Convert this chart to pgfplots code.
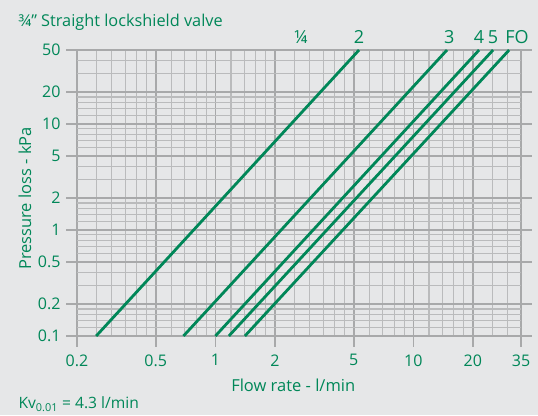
\documentclass[border=0pt]{standalone}
\usepackage{fontspec}
\setmainfont{Open Sans}
\usepackage{pgfplots}
\pgfplotsset{compat=1.18}
\definecolor{bg}{RGB}{230,231,232}
\definecolor{grn}{RGB}{0,135,88}
\definecolor{gmin}{RGB}{186,187,188}
\definecolor{gmaj}{RGB}{168,169,170}
\begin{document}
\begin{tikzpicture}
\fill[bg] (0,0) rectangle (538pt,415pt);
\begin{axis}[
  at={(77pt,79pt)}, anchor=south west,
  scale only axis, width=444pt, height=286pt,
  xmode=log, ymode=log,
  xmin=0.2, xmax=35, ymin=0.1, ymax=50,
  axis line style={draw=none},
  xtick={0.2,0.5,1,2,5,10,20,35},
  xticklabels={0.2,0.5,1,2,5,10,20,35},
  minor xtick={0.25,0.3,0.35,0.4,0.45,0.6,0.7,0.8,0.9,1.2,1.4,1.6,1.8,2.5,3,3.5,4,4.5,6,7,8,9,12,14,16,18,25,30},
  ytick={0.1,0.2,0.5,1,2,5,10,20,50},
  yticklabels={0.1,0.2,0.5,1,2,5,10,20,50},
  minor ytick={0.12,0.14,0.16,0.18,0.3,0.4,0.6,0.7,0.8,0.9,1.2,1.4,1.6,1.8,3,4,6,7,8,9,12,14,16,18,30,40},
  grid=both,
  minor grid style={gmin, line width=1.1pt},
  major grid style={gmaj, line width=1.6pt},
  tick align=outside,
  xtick pos=left, ytick pos=both, yticklabel pos=left,
  major tick length=11pt, minor tick length=0pt,
  major tick style={gmaj, line width=1.6pt},
  ticklabel style={font=\fontsize{16}{18}\selectfont, text=grn},
  xticklabel style={yshift=-4pt},
  yticklabel style={xshift=-2pt},
  /pgf/number format/assume math mode=true,
  every axis x label/.style={at={(axis description cs:0.487,-0.171)}, anchor=center, font=\fontsize{16.5}{20}\selectfont, text=grn},
  every axis y label/.style={at={(axis description cs:-0.117,0.481)}, rotate=90, anchor=center, font=\fontsize{16.5}{20}\selectfont, text=grn},
  xlabel={Flow rate - l/min},
  ylabel={Pressure loss - kPa},
  clip=false,
]
\addplot[grn, line width=2.8pt] coordinates {(0.25,0.1) (5.32,50)};
\addplot[grn, line width=2.8pt] coordinates {(0.69,0.1) (14.8,50)};
\addplot[grn, line width=2.8pt] coordinates {(1.0,0.1) (21.5,50)};
\addplot[grn, line width=2.8pt] coordinates {(1.17,0.1) (25.3,50)};
\addplot[grn, line width=2.8pt] coordinates {(1.41,0.1) (30.5,50)};
\begin{scope}[every node/.style={anchor=base, text=grn, font=\fontsize{18}{20}\selectfont}]
\node at (axis cs:2.71,50) [yshift=6.7pt] {¼};
\node at (axis cs:5.32,50) [yshift=6.7pt] {2};
\node at (axis cs:15.2,50) [yshift=6.7pt] {3};
\node at (axis cs:21.5,50) [yshift=6.7pt] {4};
\node at (axis cs:25.3,50) [yshift=6.7pt] {5};
\node at (axis cs:33.4,50) [yshift=6.7pt] {FO};
\end{scope}
\node[anchor=base west, text=grn, font=\fontsize{16.3}{20}\selectfont] at (axis description cs:-0.1396,1.0815) {¾” Straight lockshield valve};
\node[anchor=base west, text=grn, font=\fontsize{15.6}{18}\selectfont] at (axis description cs:-0.1396,-0.2552) {Kv\textsubscript{0.01} = 4.3 l/min};
\end{axis}
\end{tikzpicture}
\end{document}
